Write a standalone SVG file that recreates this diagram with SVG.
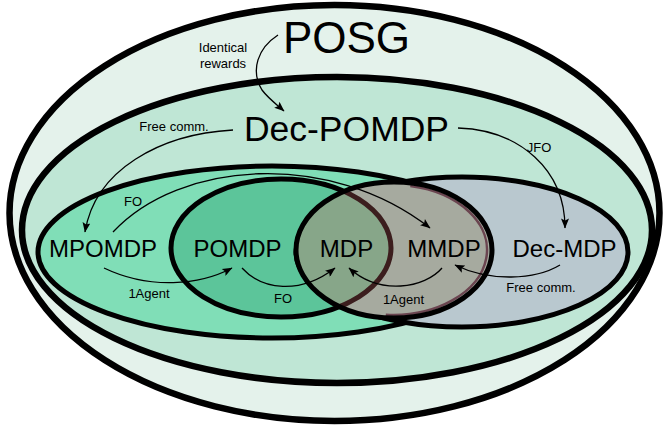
<svg xmlns="http://www.w3.org/2000/svg" width="664" height="428" viewBox="0 0 664 428">
<style>
.set{stroke:#000;stroke-width:5}
.big{stroke-width:6.5}
.lbl{font-family:"Liberation Sans",Arial,sans-serif;font-size:24px;text-anchor:middle;fill:#000}
.sm{font-family:"Liberation Sans",Arial,sans-serif;font-size:13px;text-anchor:middle;fill:#000}
.con{fill:none;stroke:#000;stroke-width:1.3}
</style>
<defs>
<marker id="ah" viewBox="0 0 10 8" refX="9.5" refY="4" markerWidth="11" markerHeight="8" orient="auto" markerUnits="userSpaceOnUse">
<path d="M0,0 L10,4 L0,8 L2,4 z" fill="#000"/>
</marker>
<clipPath id="mmdpClip"><ellipse cx="394" cy="250" rx="98" ry="68"/></clipPath>
</defs>
<g id="posg">
<ellipse class="set big" cx="334.5" cy="213" rx="325" ry="208" fill="#e4f2eb"/>
<text class="lbl" x="346.5" y="53" style="font-size:44px">POSG</text>
</g>
<g id="dec-pomdp">
<ellipse class="set big" cx="337" cy="230" rx="315" ry="153" fill="#bfe6d5"/>
<text class="lbl" x="346.5" y="141" style="font-size:35.5px">Dec-POMDP</text>
</g>
<g id="mpomdp">
<ellipse class="set" cx="272" cy="252" rx="234" ry="86" fill="#80deb7"/>
<text class="lbl" x="103" y="257">MPOMDP</text>
</g>
<g id="pomdp">
<ellipse class="set" cx="281" cy="248" rx="110" ry="69" fill="#5cc59a"/>
<text class="lbl" x="237.5" y="257">POMDP</text>
</g>
<g id="dec-mdp">
<ellipse class="set" cx="462" cy="252" rx="166" ry="75" fill="#b9c8cf"/>
<text class="lbl" x="564.5" y="257">Dec-MDP</text>
</g>
<g id="mmdp">
<ellipse cx="394" cy="250" rx="98" ry="68" fill="#a6aa9f"/>
<g clip-path="url(#mmdpClip)">
<ellipse cx="281" cy="248" rx="110" ry="69" fill="#87a689" stroke="#3c1e1e" stroke-width="5"/>
</g>
<path d="M410.3,186 A94 65 0 0 1 385.8,314.7" fill="none" stroke="#6b4550" stroke-width="2.5"/>
<ellipse class="set" cx="394" cy="250" rx="98" ry="68" fill="none"/>
<text class="lbl" x="444" y="257">MMDP</text>
</g>
<g id="mdp">
<text class="lbl" x="346.5" y="257">MDP</text>
</g>
<g id="connectors">
<path class="con" d="M278,35 C258,48 250,70 262,90 C268,98 276,104 284,111" marker-end="url(#ah)"/>
<path class="con" d="M233,130 C160,134 95,170 85,232" marker-end="url(#ah)"/>
<path class="con" d="M113,232 C180,160 330,150 430,228" marker-end="url(#ah)"/>
<path class="con" d="M458,128 C520,130 565,170 565,228" marker-end="url(#ah)"/>
<path class="con" d="M104,268 C150,290 200,285 232,268" marker-end="url(#ah)"/>
<path class="con" d="M242,268 C262,290 300,295 335,268" marker-end="url(#ah)"/>
<path class="con" d="M442,268 C425,288 380,296 349,268" marker-end="url(#ah)"/>
<path class="con" d="M560,265 C535,280 490,282 455,265" marker-end="url(#ah)"/>
<text class="sm" x="223" y="52">Identical</text>
<text class="sm" x="223" y="68">rewards</text>
<text class="sm" x="174" y="131">Free comm.</text>
<text class="sm" x="539" y="152">JFO</text>
<text class="sm" x="133" y="206">FO</text>
<text class="sm" x="149" y="298">1Agent</text>
<text class="sm" x="283" y="303">FO</text>
<text class="sm" x="403.5" y="304">1Agent</text>
<text class="sm" x="541" y="292">Free comm.</text>
</g>
</svg>
